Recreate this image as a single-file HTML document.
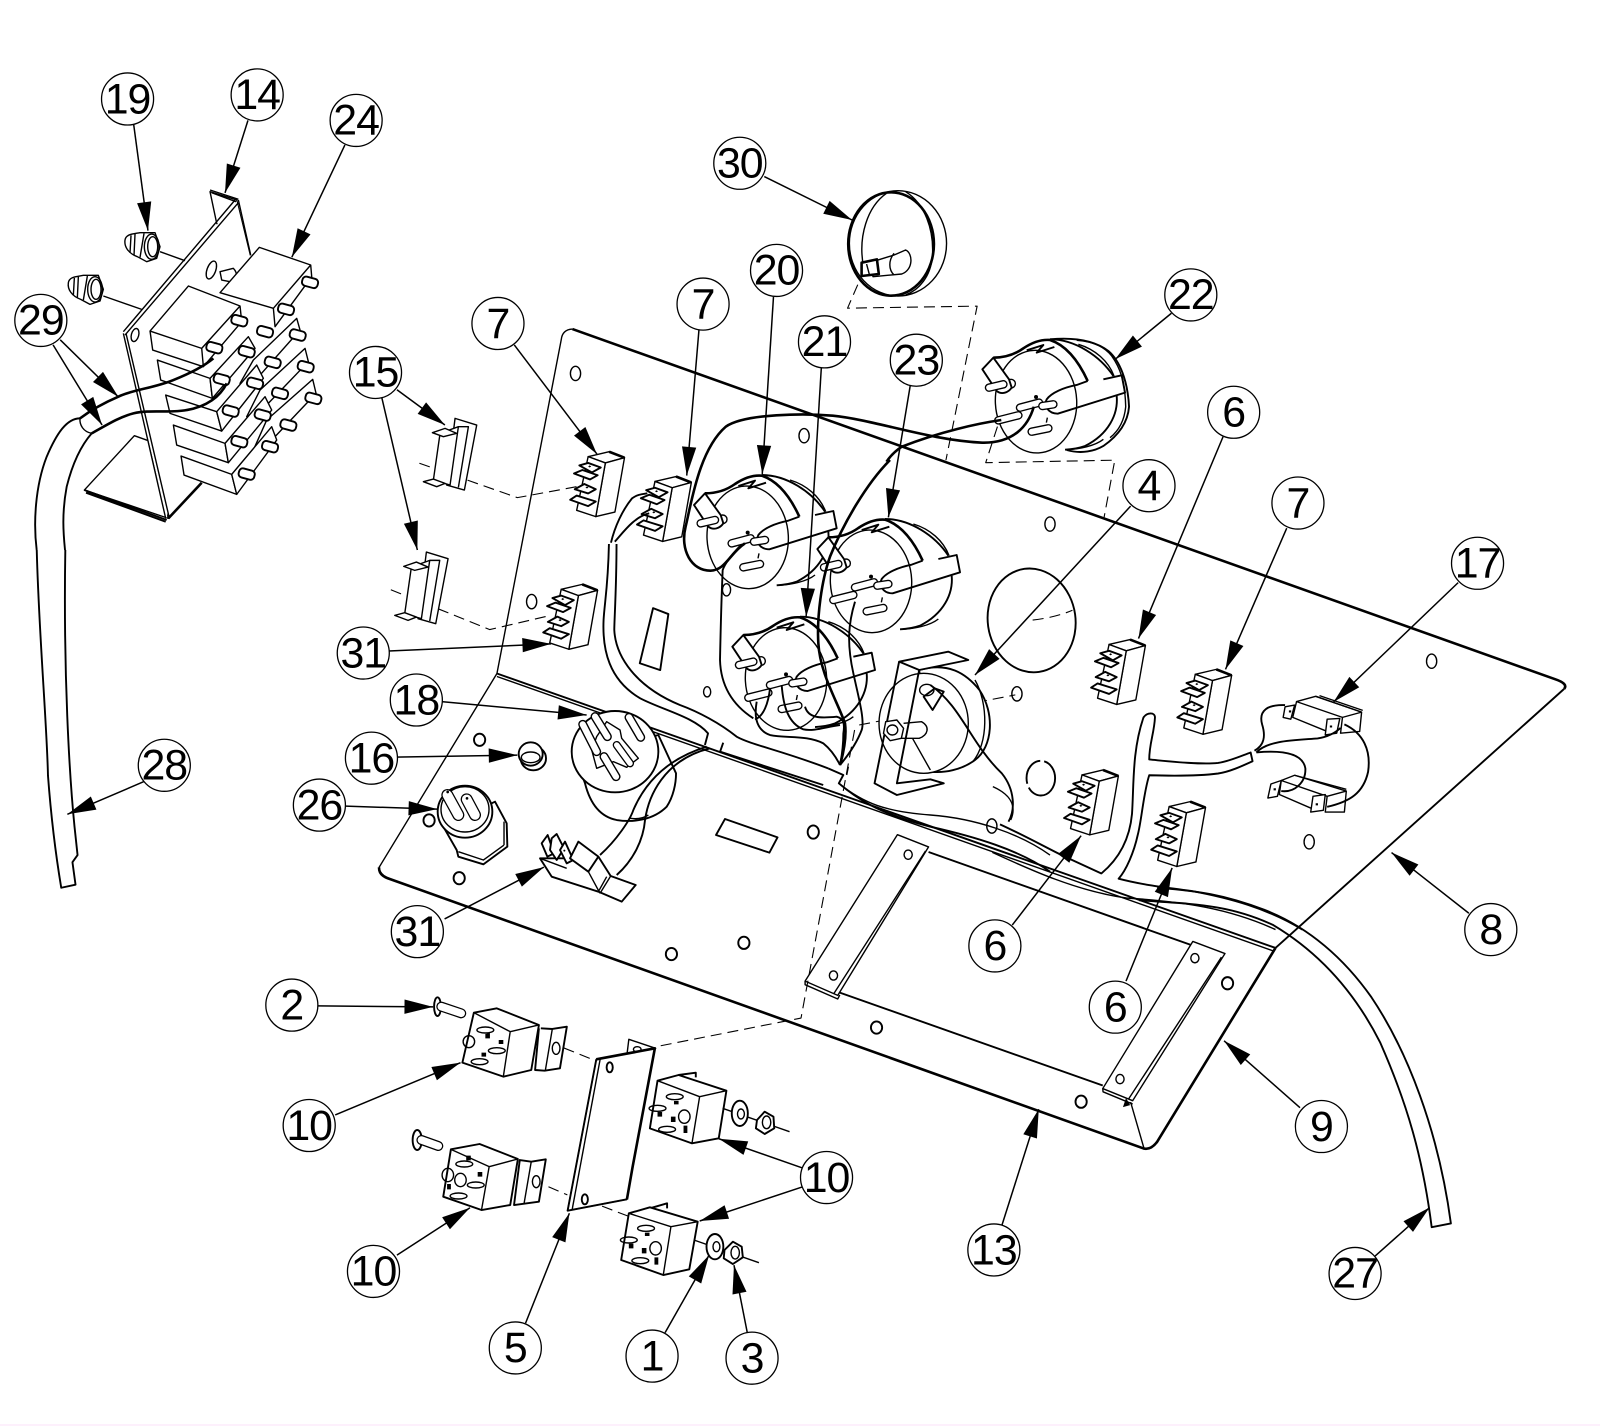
<!DOCTYPE html>
<html><head><meta charset="utf-8"><title>Parts diagram</title>
<style>
html,body{margin:0;padding:0;background:#fff}
body{width:1600px;height:1426px;position:relative;overflow:hidden}
svg{position:absolute;left:0;top:0}
svg *{vector-effect:non-scaling-stroke}
path,line,ellipse,polygon,polyline,circle,rect{stroke:#000;stroke-width:1.4;fill:none;stroke-linejoin:round}
.f{fill:#fff}
.b{fill:#000;stroke:none}
.k{stroke-width:2.6}
.m{stroke-width:1.9}
.d{stroke-dasharray:11 6;stroke-width:1.1}
.a{stroke-width:1.5;marker-end:url(#ar)}
.p1{stroke-width:8.5;stroke-linecap:round}
.p2{stroke:#fff;stroke-width:5.8;stroke-linecap:round}
.lc{fill:#fff;stroke-width:1.3}
text{font-family:"Liberation Sans",sans-serif;font-size:42px;text-anchor:middle;fill:#000;letter-spacing:-1px}
#strip{position:absolute;left:0;top:1424px;width:1600px;height:2px;background:#fdf0fc}
</style></head>
<body>
<svg width="1600" height="1426" viewBox="0 0 1568 1397.5" xmlns="http://www.w3.org/2000/svg">
<defs>
<marker id="ar" markerUnits="userSpaceOnUse" markerWidth="30" markerHeight="14" refX="28" refY="7" orient="auto" overflow="visible"><path d="M0 0L28 7L0 14Z" style="fill:#000;stroke:none"/></marker>
<g id="tb">
<path class="f" d="M-55 14L0 0L40 17L-10 32Z"/>
<path class="f" d="M-10 32L40 17L15 172L-35 185Z"/>
<path class="f" d="M-55 14L-10 32L-35 185L-85 167Z"/>
<path class="k" d="M0 0L40 17"/>
<path class="f m" d="M-78 39L-55 32L-22 45L-45 59Z"/><path class="f m" d="M-92 62L-70 52L-30 67L-50 79Z"/>
<path class="f m" d="M-90 107L-65 92L-35 107L-55 119Z"/><path class="f m" d="M-102 137L-85 125L-35 142L-55 155Z"/>
<path class="b" d="M-55 42l4 -3l4 3l-4 3ZM-62 102l4 -3l4 3l-4 3Z"/>
</g>
<g id="gauge">
<path d="M245 45C320 45 400 100 437 155L470 205L425 300C400 345 350 372 290 378L200 385L80 230Z" style="fill:#fff;stroke:none"/>
<path class="m" d="M245 45C320 45 395 95 435 155"/>
<path d="M330 60C380 75 420 110 437 155"/>
<path class="m" d="M445 215C450 270 420 330 350 365C330 372 310 375 290 376"/>
<path d="M405 345C380 365 330 375 300 375"/>
<ellipse class="f" cx="203" cy="232" rx="122" ry="154" transform="rotate(-3 203 232)"/>
<path class="k" d="M75 100C110 100 140 90 165 72C195 52 220 45 245 47C300 65 335 120 358 170"/>
<path class="m" d="M358 170L325 182C285 190 250 205 235 225C225 245 240 268 268 268L470 205L460 153L405 165"/>
<path class="m" d="M175 78L225 62L205 85L258 68"/>
<circle class="f" cx="128" cy="178" r="13"/>
<path class="f m" d="M75 100L42 135L85 200C100 212 120 205 130 190L122 165Z"/>
<path class="p1" d="M62 190L105 180"/><path class="p2" d="M62 190L105 180"/>
<path class="p1" d="M155 250L212 235"/><path class="p2" d="M155 250L212 235"/>
<path class="p1" d="M222 245L255 240"/><path class="p2" d="M222 245L255 240"/>
<path class="p1" d="M190 322L240 312"/><path class="p2" d="M190 322L240 312"/>
<circle class="b" cx="203" cy="218" r="6"/><path d="M237 280L234 295"/>
</g>
<g id="pin"><path class="p1" d="M90 288L150 273"/><path class="p2" d="M90 288L150 273"/></g>
<g id="sw">
<path class="f" d="M1365 1105L1430 1125L1393 1320L1340 1305Z"/>
<path class="f" d="M1320 1150L1375 1130L1350 1305L1300 1290Z"/>
<path d="M1375 1130L1405 1130L1375 1312"/>
<path class="f" d="M1297 1148L1335 1135L1370 1150L1330 1160Z"/>
<path class="f" d="M1270 1295L1300 1287L1335 1300L1310 1310Z"/>
</g>
<g id="nut">
<path class="f" d="M375 570C378 552 398 552 420 548L465 548L480 590L470 625L440 635L412 620C385 610 372 590 375 570Z"/>
<ellipse cx="455" cy="590" rx="22" ry="38"/><ellipse cx="458" cy="590" rx="15" ry="30"/>
<path d="M393 556L390 608M405 552L402 615M432 550L420 622"/>
</g>
<rect id="tab" class="f m" x="-24" y="-14" width="48" height="28" rx="11"/>
</defs>

<!-- main panel -->
<path class="k" d="M561 322.5L1524 665.6Q1537 670 1533 675"/>
<path class="m" d="M1533 675L1250 929"/>
<path d="M561 322.5Q551 323 550 333L487 660L371.5 850"/>
<path class="k" d="M371.5 850Q371 858 382 861.4L1121 1125.6Q1128 1127 1134 1119L1250 929"/>
<path class="m" d="M487 660L1250 929"/><path d="M487 663L1248 932"/>
<!-- brackets on lower plate -->
<path d="M879.5 818L910 830L821 975.5L789 961.5Z"/><path d="M907 834L817 974M789 961.5L789 965L821 979L823 975"/>
<path d="M1169 922.6L1200.5 934.5L1110 1078.7L1080.7 1066.8Z"/><path d="M1197 938L1106 1077M1080.7 1066.8L1081 1070L1110 1082"/>
<path class="m" d="M910 835L1167 926M823 972.8L1080.7 1063.8"/>
<path d="M1108 1080L1121 1125"/>
<path d="M1103.5 1076l-3 9l7 -2Z" class="b"/>
<!-- holes -->
<g>
<ellipse cx="564" cy="366" rx="5" ry="7"/><ellipse cx="788" cy="427" rx="5" ry="7"/><ellipse cx="1029" cy="513.6" rx="5" ry="7"/><ellipse cx="521" cy="589.6" rx="5" ry="7"/><ellipse cx="712" cy="578" rx="4" ry="6"/><ellipse cx="1403" cy="648" rx="5" ry="7"/><ellipse cx="1283" cy="825" rx="5" ry="7"/><ellipse cx="996.6" cy="680" rx="5" ry="7"/><ellipse cx="693" cy="678" rx="3.5" ry="5"/><ellipse cx="972" cy="809.5" rx="5" ry="7"/>
<ellipse class="m" cx="470" cy="725" rx="5.5" ry="6"/><ellipse class="m" cx="420.5" cy="804" rx="5.5" ry="6"/><ellipse class="m" cx="450" cy="860.6" rx="5.5" ry="6"/><ellipse class="m" cx="797" cy="815.4" rx="5.5" ry="6.5"/><ellipse class="m" cx="658" cy="935" rx="5.5" ry="6"/><ellipse class="m" cx="729" cy="924" rx="5.5" ry="6"/><ellipse class="m" cx="859" cy="1007" rx="5.5" ry="6"/><ellipse class="m" cx="1059.5" cy="1079.7" rx="5.5" ry="6"/><ellipse class="m" cx="1203" cy="963.6" rx="5.5" ry="6"/>
<ellipse cx="890" cy="837.6" rx="4" ry="4.5"/><ellipse cx="816.8" cy="956" rx="4" ry="4.5"/><ellipse cx="1171" cy="939" rx="4" ry="4.5"/><ellipse cx="1097.6" cy="1057.5" rx="4" ry="4.5"/>
</g>
<ellipse class="m" cx="1011" cy="608" rx="43" ry="51" transform="rotate(-8 1011 608)"/>
<ellipse class="m" cx="1020" cy="762.6" rx="14" ry="17" stroke-dasharray="40 4 30 4"/>
<polygon class="m" points="640,596 655,601.8 647,656.7 627,650"/>
<polygon class="m" points="710.5,802.6 762,820.6 754,835.6 701.7,818.3"/>

<!-- dashed -->
<path class="d" d="M840.6 279L830.6 302L957.6 300L927 451"/>
<path class="d" d="M977.5 418L966 453.4L1092.5 451L1082 507"/>
<path class="d" d="M1012 607.7Q1035 605 1051 598M842 710.5L995 681"/>
<path class="d" d="M837.5 715.4L785 997.7L642.6 1025.8"/>
<path class="d" d="M552.5 1027L631 1058.6M537.5 1163L556 1171M590 1182L616 1192"/>
<path class="d" d="M411 454L507 487.7L565 477M383 578L480 617L540 603"/>

<!-- terminal blocks -->
<use href="#tb" transform="translate(1107.5,626.8) scale(.375,.3437)"/>
<use href="#tb" transform="translate(1192,656) scale(.375,.3437)"/>
<use href="#tb" transform="translate(1081,754.6) scale(.375,.3437)"/>
<use href="#tb" transform="translate(1166.4,785.6) scale(.375,.3437)"/>
<use href="#tb" transform="translate(597,442.7) scale(.375,.3437)"/>
<use href="#tb" transform="translate(662.5,467) scale(.375,.3437)"/>
<use href="#tb" transform="translate(570.6,572.7) scale(.375,.3437)"/>

<!-- gauges (crop A coordinates) -->
<g transform="translate(666.4,450.8) scale(.3267)">
<use href="#gauge"/>
<g transform="translate(115,425)"><use href="#gauge"/><use href="#pin"/></g>
<g transform="translate(370,132)"><use href="#gauge"/><use href="#pin"/></g>
<g transform="translate(865,-407)">
<use href="#gauge"/><use href="#pin"/>
<path class="m" d="M245 45C300 40 370 42 420 80C455 110 478 170 482 247C478 300 445 337 405 365C380 380 340 390 295 377"/>
<path d="M325 48C380 52 410 70 430 95C455 130 470 170 472 247C468 290 450 320 425 340"/>
</g>
<!-- wires around gauges 20/21/23 -->
<path class="m" d="M180 258C150 290 135 310 128 330C125 400 122 500 120 600C122 670 150 730 220 775"/>
<path class="m" d="M230 725C222 770 228 810 270 825C320 835 380 825 430 850C455 870 470 895 480 915"/>
<path class="m" d="M305 675C310 740 325 790 370 808C400 815 440 800 480 795"/>
<path class="m" d="M270 685C265 730 250 770 225 778"/>
<path class="m" d="M375 740C385 775 420 775 470 770C490 775 495 790 490 820C490 860 485 890 480 915"/>
<path class="m" d="M525 425C505 490 500 550 520 640C535 710 555 780 545 810C530 850 505 885 480 915"/>
<path class="k" d="M630 0C560 70 490 190 450 290C425 360 410 470 415 550C420 640 470 720 495 790C500 830 490 880 480 915"/>
<path d="M505 920L500 945"/>
</g>
<g transform="translate(490,147) scale(.375,.3267)">
<path class="k" d="M640 1180C600 1210 590 1260 550 1262C500 1262 470 1200 485 1130C500 1060 520 900 590 830C640 790 800 790 870 797C980 810 1120 870 1260 878C1340 880 1380 830 1395 770"/>
<path class="k" d="M1310 810C1250 820 1150 845 1050 890C1030 905 1019 920 1010 935"/>
<path class="m" d="M290 1178C300 1130 320 1080 345 1045C360 1032 375 1032 385 1030M300 1175C320 1150 350 1100 390 1090"/>
<!-- knob 30 -->
<ellipse class="f" cx="1040" cy="280" rx="127" ry="158"/>
<ellipse class="k" cx="1022" cy="282" rx="112" ry="155"/>
<path d="M1010 130C960 170 935 260 950 350M1060 125C1110 160 1135 240 1130 320C1125 380 1095 420 1060 435"/>
<path class="f" d="M960 340L1030 315L1060 300C1080 310 1080 360 1050 372L975 380Z"/>
<path d="M1030 310C1015 330 1015 360 1030 375"/>
<path class="f k" d="M945 338L985 328L990 372L945 378Z"/><path d="M958 342L965 372"/>
</g>

<!-- hoses and wires, lower plate -->
<g transform="translate(343,607.6) scale(.4375,.3267)">
<path class="m" d="M580 -228C578 -100 570 -50 568 0C565 90 580 180 650 235C700 270 770 290 802 340L795 375"/>
<path class="m" d="M597 -228C597 -100 592 0 592 30C595 110 640 200 739 255C780 275 829 310 866 350C900 375 963 390 1071 445"/>
<path class="m" d="M836 368L829 395L1060 495"/>
<path class="m" d="M1071 445L1105 465L1095 490C1130 530 1180 580 1300 620C1400 650 1500 690 1568 755"/>
<path d="M1095 490C1150 550 1200 575 1300 585C1400 595 1500 640 1568 705"/>
<!-- gauge 4 -->
<path class="f m" d="M1275 150C1340 125 1380 160 1410 210C1445 280 1440 380 1400 420C1370 450 1330 460 1300 455Z"/>
<ellipse class="f" cx="1285" cy="310" rx="100" ry="150"/>
<path d="M1400 180C1430 250 1430 370 1395 425"/>
<path class="f m" d="M1230 125L1340 95L1385 120L1275 150Z"/>
<path class="m" d="M1230 125L1175 490L1225 525L1330 490L1300 478L1225 490L1275 150"/>
<path class="f" d="M1200 305L1225 300L1240 325L1235 355L1210 362L1195 340Z"/>
<ellipse cx="1215" cy="330" rx="12" ry="15"/>
<path d="M1240 310L1280 305C1300 320 1295 345 1275 355L1235 355"/>
<path class="m" d="M1285 230L1310 205L1330 215L1305 270Z"/>
<ellipse cx="1292" cy="210" rx="16" ry="17"/>
<path class="m" d="M1300 195C1370 260 1390 370 1460 460C1490 510 1490 570 1475 605"/>
<path d="M1440 500C1490 530 1490 570 1480 600M1260 355L1300 450"/>
</g>
<!-- parts 18, 16, 26, lower 31 (crop C coordinates) -->
<g transform="translate(392,666.4) scale(.3267)">
<path class="f m" d="M525 230L555 310C570 370 600 410 650 420C700 428 760 420 800 380C820 350 828 310 828 280L775 165Z"/>
<ellipse class="f m" cx="645" cy="215" rx="130" ry="122"/>
<path class="f" d="M575 210L590 265L640 245L680 262L715 235L665 175L660 150L620 125L590 170Z"/>
<path class="p1" d="M650 195L690 250" style="stroke-width:8"/><path class="p2" d="M650 195L690 250" style="stroke-width:5.4"/>
<path class="p1" d="M548 133L590 215" style="stroke-width:9"/><path class="p2" d="M548 133L590 215" style="stroke-width:6.2"/>
<path class="p1" d="M585 110L622 170" style="stroke-width:9"/><path class="p2" d="M585 110L622 170" style="stroke-width:6.2"/>
<path class="p1" d="M687 112L722 172" style="stroke-width:9"/><path class="p2" d="M687 112L722 172" style="stroke-width:6.2"/>
<path class="p1" d="M612 230L648 290" style="stroke-width:9"/><path class="p2" d="M612 230L648 290" style="stroke-width:6.2"/>
<ellipse class="m" cx="400" cy="235" rx="38" ry="36"/>
<ellipse class="f m" cx="392" cy="222" rx="36" ry="35"/>
<ellipse cx="392" cy="232" rx="28" ry="16"/>
<path class="f m" d="M130 440L170 510L175 530L250 553L322 500L320 430L285 365Z"/>
<path d="M175 515L250 540L312 495M312 425L312 495"/>
<ellipse class="f m" cx="195" cy="395" rx="82" ry="78"/><ellipse cx="195" cy="388" rx="72" ry="68"/>
<path class="p1" d="M200 358L225 405" style="stroke-width:12"/><path class="p2" d="M200 358L225 405" style="stroke-width:9.5"/>
<path class="p1" d="M142 345L175 405" style="stroke-width:12"/><path class="p2" d="M142 345L175 405" style="stroke-width:9.5"/>
<circle class="b" cx="143" cy="336" r="4"/><circle class="b" cx="201" cy="355" r="4"/>
<path class="f m" d="M420 535L455 590L595 635L665 665L707 615L632 588L595 530L510 535Z"/>
<path class="f m" d="M425 490L443 465L462 520L442 530Z"/>
<path class="f m" d="M455 475L470 462L492 505L470 540L450 510Z"/>
<path class="f m" d="M480 510L495 485L520 540L500 550Z"/>
<path class="f m" d="M510 535L535 485L595 530L565 575Z"/>
<path d="M565 575L600 640M632 588L600 640M620 590L595 635M420 535L500 565"/>
<circle class="b" cx="493" cy="512" r="3"/>
<path class="m" d="M600 525C650 480 690 420 700 390C730 320 790 240 920 200"/>
<path class="m" d="M650 585C700 540 730 480 735 420C745 350 790 240 930 205"/>
<path d="M690 415C710 418 730 415 745 405"/>
</g>
<g transform="translate(980,392) scale(.375,.3437)">
<path class="m" d="M0 1210C60 1240 110 1270 165 1300L265 1350C320 1300 340 1240 345 1180C350 1100 345 1000 375 905C385 890 405 890 405 905C403 950 390 980 390 1025C440 1030 520 1040 570 1035C600 1030 630 1015 655 1005L660 1030C630 1045 600 1060 570 1065C520 1072 450 1072 390 1070C375 1120 370 1200 360 1240C350 1290 330 1340 310 1365C380 1385 440 1390 500 1400C600 1420 700 1450 790 1510"/>
<path d="M-20 1290C80 1340 200 1400 330 1420C480 1430 600 1450 720 1510"/>
</g>
<g transform="translate(784,813.4) scale(.4375,.3725)">
<path class="m" d="M800 152C890 160 950 170 1040 210C1140 255 1220 340 1280 440C1360 580 1430 790 1458 1035L1415 1045C1395 860 1360 720 1300 560C1240 420 1160 320 1060 250C960 195 880 195 760 185"/>
</g>
<!-- 17 -->
<g transform="translate(980,392) scale(.375,.3437)">
<path class="f" d="M775 860L825 845L945 890L940 945L890 950L895 905Z"/>
<path d="M825 845L945 890M835 843L948 885M775 860L765 905L855 945M895 905L945 890"/>
<polygon class="f" points="745,875 770,870 760,910 740,905"/><polygon class="f" points="855,910 888,908 880,950 850,955"/>
<path class="f" d="M735 1085L770 1070L905 1115L900 1175L850 1175L855 1130Z"/>
<path d="M770 1070L905 1110M735 1085L730 1125L815 1165M855 1130L905 1115"/>
<polygon class="f" points="708,1095 735,1085 725,1130 700,1135"/><polygon class="f" points="818,1130 850,1125 845,1170 812,1175"/>
<path class="b" d="M755 885l6 0l0 6l-6 0ZM862 928l6 0l0 6l-6 0ZM715 1107l6 0l0 6l-6 0ZM825 1150l6 0l0 6l-6 0Z"/>
<path class="m" d="M665 1000C690 985 695 960 685 925C675 885 700 868 745 870"/>
<path class="m" d="M670 1005C700 970 770 970 830 965C860 960 880 945 890 935"/>
<path class="m" d="M670 1005C720 1000 790 1000 798 1050C800 1090 770 1120 735 1115"/>
<path class="m" d="M900 925C950 950 970 1000 962 1060C950 1120 915 1145 855 1160"/>
</g>

<!-- 14 bracket + relays -->
<g transform="translate(0,49) scale(.3267,.3267)">
<path class="f" d="M630 425L710 450L750 615L650 520Z"/>
<path d="M630 420L715 448M635 428L708 455"/>
<path class="k" d="M505 1405L605 1298"/>
<path class="f" d="M253 1320L403 1157L445 1172L505 1405Z"/>
<path class="m" d="M253 1320L500 1410M258 1328L497 1415"/>
<path class="f" d="M370 850L710 455L750 620L600 700L500 1405Z" style="stroke:none"/>
<path d="M370 845L705 450M375 855L715 458"/><path d="M370 850L497 1405M378 850L507 1400M715 450L752 615"/>
<ellipse cx="405" cy="855" rx="11" ry="20" transform="rotate(15 405 855)"/>
<ellipse cx="634" cy="660" rx="13" ry="28" transform="rotate(20 634 660)"/>
<path d="M660 665L700 655C715 670 710 690 690 695L665 690Z" class="f"/>
<use href="#nut"/><use href="#nut" transform="translate(-170,128)"/>
<path d="M480 605L555 632M310 738L425 778"/>
<!-- right stack -->
<path class="f" d="M800 1110L938 988L948 1030L820 1165L760 1200Z"/>
<path class="f" d="M780 1020L915 895L925 935L800 1065L740 1100Z"/>
<path class="f" d="M760 930L890 805L900 840L780 975L720 1000Z"/>
<path class="f" d="M778 592L932 645L935 680L825 830L820 775L660 728Z"/>
<path d="M820 775L932 645"/>
<!-- left stack bottom up -->
<path class="f" d="M543 1218L695 1273L710 1333L552 1275Z"/><path class="f" d="M695 1273L815 1130L830 1170L710 1333Z"/>
<path class="f" d="M520 1125L675 1180L685 1238L530 1185Z"/><path class="f" d="M675 1180L795 1040L815 1080L685 1238Z"/>
<path class="f" d="M497 1035L650 1085L665 1143L510 1090Z"/><path class="f" d="M650 1085L770 945L790 985L665 1143Z"/>
<path class="f" d="M472 930L630 985L637 1045L482 990Z"/><path class="f" d="M630 985L745 860L765 895L637 1045Z"/>
<path class="f" d="M565 708L720 768L725 815L610 950L458 900L450 843Z"/>
<path d="M450 843L605 895L610 950M605 895L720 768"/>
<use href="#tab" transform="translate(930,697) rotate(15)"/>
<use href="#tab" transform="translate(858,778) rotate(15)"/>
<use href="#tab" transform="translate(795,845) rotate(15)"/>
<use href="#tab" transform="translate(893,855) rotate(15)"/>
<use href="#tab" transform="translate(818,937) rotate(15)"/>
<use href="#tab" transform="translate(917,950) rotate(15)"/>
<use href="#tab" transform="translate(840,1030) rotate(15)"/>
<use href="#tab" transform="translate(940,1045) rotate(15)"/>
<use href="#tab" transform="translate(865,1125) rotate(15)"/>
<use href="#tab" transform="translate(718,812) rotate(15)"/>
<use href="#tab" transform="translate(643,893) rotate(15)"/>
<use href="#tab" transform="translate(740,905) rotate(15)"/>
<use href="#tab" transform="translate(665,988) rotate(15)"/>
<use href="#tab" transform="translate(765,1000) rotate(15)"/>
<use href="#tab" transform="translate(692,1083) rotate(15)"/>
<use href="#tab" transform="translate(788,1095) rotate(15)"/>
<use href="#tab" transform="translate(718,1175) rotate(15)"/>
<use href="#tab" transform="translate(810,1190) rotate(15)"/>
<use href="#tab" transform="translate(740,1272) rotate(15)"/>
<!-- wires 29 -->
<path class="k" d="M240 1105C280 1075 320 1055 355 1040C400 1018 460 1015 520 990C570 970 610 950 640 925"/>
<path class="k" d="M275 1150C320 1125 360 1100 400 1090C450 1078 510 1090 560 1080C620 1070 660 1040 680 1000"/>
<!-- hose 28 -->
<path class="m" d="M240 1105C200 1105 170 1150 140 1220C105 1310 100 1420 110 1500"/>
<path class="m" d="M275 1150C240 1190 215 1250 200 1310C185 1390 190 1450 195 1500"/>
<path d="M240 1105C238 1125 250 1145 275 1150"/>
</g>
<path class="m" d="M36 539C38 620 46 710 47 760C50 800 55 840 60 870L74 867L71 845L76 838L73 810C68 760 62 660 64 539"/>

<!-- 15 switches -->
<g transform="translate(0,49) scale(.3267,.3267)"><use href="#sw"/><use href="#sw" transform="translate(-86,401)"/></g>

<!-- relays & plate -->
<g transform="translate(245,940.8) scale(.375,.3267)">
<!-- plate -->
<path class="f" d="M985 285L990 238L1060 265Z"/><ellipse cx="1012" cy="268" rx="10" ry="8"/>
<path class="f" d="M905 298L1058 265L985 718L830 752Z"/>
<path class="k" d="M905 298L1058 265L1000 620L985 718"/>
<path class="m" d="M905 298L830 752L985 718"/><path d="M915 298L842 748"/>
<ellipse cx="940" cy="322" rx="8" ry="15" class="m"/><ellipse cx="875" cy="718" rx="8" ry="15" class="m"/>
<!-- TL -->
<ellipse class="m" cx="490" cy="140" rx="9" ry="28"/>
<path class="p1" d="M500 140L552 160" style="stroke-width:10"/><path class="p2" d="M500 140L552 160" style="stroke-width:7.5"/>
<path class="f m" d="M585 158L645 145L755 195L735 330L662 350L555 308Z"/>
<path d="M585 158L680 215L662 350M680 215L755 195"/>
<path class="f m" d="M755 205L745 330L770 332L810 325L828 200L790 207L760 205"/><path d="M790 207L772 330"/><ellipse cx="800" cy="265" rx="10" ry="18"/>
<ellipse cx="615" cy="210" rx="22" ry="9"/><ellipse cx="572" cy="245" rx="15" ry="18"/><ellipse cx="645" cy="272" rx="22" ry="9"/><ellipse cx="600" cy="305" rx="22" ry="9"/>
<path class="b" d="M615 222l12 -3l0 16l-12 0ZM650 240l12 0l0 12l-12 0ZM605 278l12 0l0 12l-12 0Z"/>
<!-- BL -->
<ellipse class="m" cx="437" cy="540" rx="12" ry="30"/>
<path class="p1" d="M448 540L492 558" style="stroke-width:10"/><path class="p2" d="M448 540L492 558" style="stroke-width:7.5"/>
<path class="f m" d="M525 568L600 552L700 597L680 735L605 750L505 710Z"/>
<path d="M525 568L625 620L605 750M625 620L700 597"/>
<path class="f m" d="M705 600L690 735L755 725L773 598L735 605Z"/><path d="M735 605L716 732"/><ellipse cx="748" cy="665" rx="10" ry="18"/>
<ellipse cx="560" cy="612" rx="22" ry="9"/><ellipse cx="517" cy="645" rx="15" ry="20"/><ellipse cx="550" cy="660" rx="15" ry="20"/><ellipse cx="590" cy="675" rx="22" ry="9"/><ellipse cx="545" cy="708" rx="22" ry="9"/>
<path class="b" d="M565 587l12 0l0 14l-12 0ZM595 636l12 0l0 14l-12 0ZM515 672l10 0l0 16l-10 0Z"/>
<!-- TR -->
<path class="m" d="M1120 345L1165 338L1165 352"/>
<path class="f m" d="M1065 362L1120 345L1245 392L1225 535L1155 550L1045 505Z"/>
<path d="M1065 362L1175 410L1155 550M1175 410L1245 392"/>
<ellipse cx="1110" cy="410" rx="22" ry="9"/><ellipse cx="1065" cy="445" rx="22" ry="9"/><ellipse cx="1135" cy="470" rx="15" ry="20"/><ellipse cx="1090" cy="508" rx="22" ry="9"/>
<path class="b" d="M1108 423l12 0l0 10l-12 0ZM1065 456l12 0l0 14l-12 0ZM1100 470l12 0l0 16l-12 0ZM1133 497l10 0l0 22l-10 0Z"/>
<path d="M1235 445L1410 515"/>
<ellipse class="f m" cx="1280" cy="460" rx="21" ry="38"/><ellipse cx="1283" cy="462" rx="9" ry="15"/>
<path class="f m" d="M1325 480L1345 455L1368 470L1370 505L1345 522L1322 505Z"/><ellipse cx="1350" cy="487" rx="11" ry="19"/>
<!-- BR -->
<path class="m" d="M1045 745L1090 730L1090 745"/>
<path class="f m" d="M990 760L1045 742L1170 785L1148 928L1080 945L970 900Z"/>
<path d="M990 760L1100 800L1080 945M1100 800L1170 785"/>
<ellipse cx="1035" cy="805" rx="22" ry="9"/><ellipse cx="990" cy="840" rx="22" ry="9"/><ellipse cx="1060" cy="865" rx="15" ry="20"/><ellipse cx="1020" cy="902" rx="22" ry="9"/>
<path class="b" d="M1032 818l12 0l0 10l-12 0ZM990 851l12 0l0 14l-12 0ZM1024 864l12 0l0 16l-12 0ZM1057 892l10 0l0 22l-10 0Z"/>
<path d="M1160 840L1330 908"/>
<ellipse class="f m" cx="1215" cy="860" rx="22" ry="38"/><ellipse cx="1219" cy="860" rx="9" ry="15"/>
<path class="f m" d="M1240 870L1262 845L1285 860L1288 892L1262 912L1238 895Z"/><ellipse cx="1268" cy="878" rx="11" ry="19"/>
</g>

<!-- leaders -->
<line class="a" x1="131" y1="122" x2="145" y2="226"/>
<line class="a" x1="243" y1="118" x2="220.5" y2="189"/>
<line class="a" x1="338" y1="142" x2="286" y2="252"/>
<line class="a" x1="52" y1="338" x2="100" y2="416.5"/>
<line class="a" x1="59" y1="333" x2="116" y2="389"/>
<line class="a" x1="389" y1="382" x2="436" y2="416.5"/>
<line class="a" x1="374" y1="389" x2="409" y2="539"/>
<line class="a" x1="749" y1="173" x2="835" y2="215.6"/>
<line class="a" x1="758" y1="291" x2="747" y2="464.5"/>
<line class="a" x1="685" y1="323" x2="673" y2="466"/>
<line class="a" x1="504" y1="338" x2="585" y2="445"/>
<line class="a" x1="805" y1="358.7" x2="790" y2="604.5"/>
<line class="a" x1="892" y1="378" x2="870.6" y2="507"/>
<line class="a" x1="1148" y1="307" x2="1093" y2="352"/>
<line class="a" x1="1198.6" y1="428" x2="1115.7" y2="625.8"/>
<line class="a" x1="1108" y1="496" x2="955.5" y2="661.5"/>
<line class="a" x1="1261" y1="517.6" x2="1201" y2="656"/>
<line class="a" x1="1429" y1="571" x2="1307" y2="687.8"/>
<line class="a" x1="1439.5" y1="895" x2="1363.7" y2="835.5"/>
<line class="a" x1="992" y1="906.6" x2="1059.5" y2="819"/>
<line class="a" x1="1103.5" y1="961.5" x2="1148.7" y2="850.6"/>
<line class="a" x1="1274" y1="1085.5" x2="1199.6" y2="1020"/>
<line class="a" x1="1347.6" y1="1231" x2="1401" y2="1183.4"/>
<line class="a" x1="981.8" y1="1201" x2="1018" y2="1087"/>
<line class="a" x1="787" y1="1144.8" x2="704.5" y2="1116"/>
<line class="a" x1="787" y1="1163" x2="685.7" y2="1196.6"/>
<line class="a" x1="328.5" y1="1092.7" x2="451.3" y2="1041.4"/>
<line class="a" x1="389" y1="1230" x2="460.6" y2="1183.6"/>
<line class="a" x1="311.7" y1="985.8" x2="424.4" y2="986.8"/>
<line class="a" x1="515" y1="1296.8" x2="558" y2="1189"/>
<line class="a" x1="651.8" y1="1306" x2="694.9" y2="1230"/>
<line class="a" x1="732.6" y1="1307.3" x2="719.3" y2="1239.8"/>
<line class="a" x1="381" y1="638" x2="540" y2="631"/>
<line class="a" x1="435.7" y1="900.6" x2="533" y2="849.8"/>
<line class="a" x1="432.7" y1="687.6" x2="574.9" y2="700.7"/>
<line class="a" x1="386.7" y1="742" x2="507" y2="740"/>
<line class="a" x1="339" y1="790" x2="428.4" y2="793"/>
<line class="a" x1="141" y1="766" x2="66" y2="798"/>

<!-- labels -->
<g>
<circle class="lc" cx="125" cy="97" r="25.5"/><text x="125" y="111">19</text>
<circle class="lc" cx="252" cy="93" r="25.5"/><text x="252" y="107">14</text>
<circle class="lc" cx="349" cy="118" r="25.5"/><text x="349" y="132">24</text>
<circle class="lc" cx="725" cy="160" r="25.5"/><text x="725" y="174">30</text>
<circle class="lc" cx="761" cy="265" r="25.5"/><text x="761" y="279">20</text>
<circle class="lc" cx="689" cy="298" r="25.5"/><text x="689" y="312">7</text>
<circle class="lc" cx="488" cy="317" r="25.5"/><text x="488" y="331">7</text>
<circle class="lc" cx="40" cy="314" r="25.5"/><text x="40" y="328">29</text>
<circle class="lc" cx="368" cy="365" r="25.5"/><text x="368" y="379">15</text>
<circle class="lc" cx="808" cy="335" r="25.5"/><text x="808" y="349">21</text>
<circle class="lc" cx="898" cy="353" r="25.5"/><text x="898" y="367">23</text>
<circle class="lc" cx="1167" cy="289" r="25.5"/><text x="1167" y="303">22</text>
<circle class="lc" cx="1209" cy="404" r="25.5"/><text x="1209" y="418">6</text>
<circle class="lc" cx="1126" cy="476" r="25.5"/><text x="1126" y="490">4</text>
<circle class="lc" cx="1272" cy="493" r="25.5"/><text x="1272" y="507">7</text>
<circle class="lc" cx="1448" cy="552" r="25.5"/><text x="1448" y="566">17</text>
<circle class="lc" cx="356" cy="640" r="25.5"/><text x="356" y="654">31</text>
<circle class="lc" cx="408" cy="686" r="25.5"/><text x="408" y="700">18</text>
<circle class="lc" cx="364" cy="743" r="25.5"/><text x="364" y="757">16</text>
<circle class="lc" cx="313" cy="789" r="25.5"/><text x="313" y="803">26</text>
<circle class="lc" cx="161" cy="750" r="25.5"/><text x="161" y="764">28</text>
<circle class="lc" cx="409" cy="913" r="25.5"/><text x="409" y="927">31</text>
<circle class="lc" cx="286" cy="985" r="25.5"/><text x="286" y="999">2</text>
<circle class="lc" cx="303" cy="1103" r="25.5"/><text x="303" y="1117">10</text>
<circle class="lc" cx="366" cy="1246" r="25.5"/><text x="366" y="1260">10</text>
<circle class="lc" cx="810" cy="1154" r="25.5"/><text x="810" y="1168">10</text>
<circle class="lc" cx="505" cy="1321" r="25.5"/><text x="505" y="1335">5</text>
<circle class="lc" cx="639" cy="1329" r="25.5"/><text x="639" y="1343">1</text>
<circle class="lc" cx="737" cy="1331" r="25.5"/><text x="737" y="1345">3</text>
<circle class="lc" cx="974" cy="1225" r="25.5"/><text x="974" y="1239">13</text>
<circle class="lc" cx="975" cy="927" r="25.5"/><text x="975" y="941">6</text>
<circle class="lc" cx="1093" cy="987" r="25.5"/><text x="1093" y="1001">6</text>
<circle class="lc" cx="1295" cy="1104" r="25.5"/><text x="1295" y="1118">9</text>
<circle class="lc" cx="1461" cy="911" r="25.5"/><text x="1461" y="925">8</text>
<circle class="lc" cx="1328" cy="1248" r="25.5"/><text x="1328" y="1262">27</text>
</g>
</svg>
<div id="strip"></div>
</body></html>
